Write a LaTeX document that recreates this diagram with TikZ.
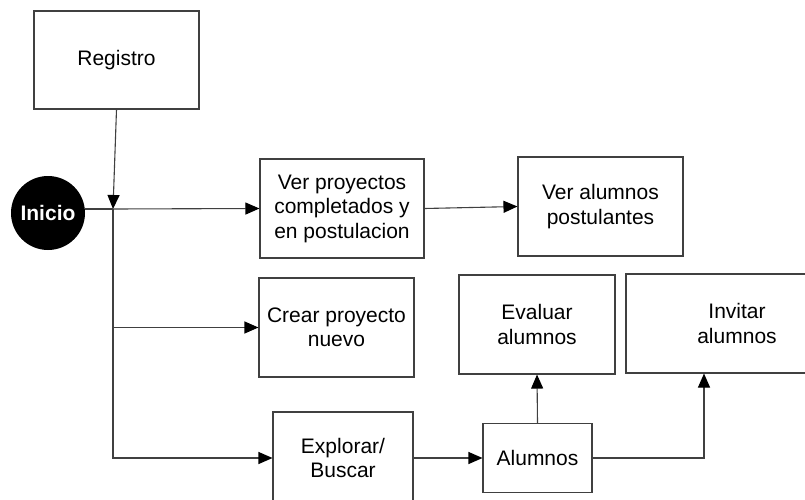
\documentclass[tikz,border=0pt]{standalone}
\usepackage{fontspec}
\setmainfont{Liberation Sans}
\usetikzlibrary{arrows.meta,calc}

\begin{document}
\begin{tikzpicture}[x=1pt, y=-1pt,
    box/.style={draw=black!75, line width=1.1pt, fill=white, align=center, inner sep=0pt,
        minimum height=99pt, font=\fontsize{21}{24.5}\selectfont},
    flecha/.style={draw=black!75, line width=1.1pt, -{Triangle[length=14pt, width=12pt, color=black]}}]
    \useasboundingbox (0,0) rectangle (805,500);
    \clip (0,0) rectangle (805,500);

    % Start circle and registration box
    \node[circle, fill=black, minimum size=74pt, inner sep=0pt, text=white,
        font=\fontsize{21}{24}\selectfont\bfseries] (inicio) at (48,213) {Inicio};
    \node[box, minimum width=165pt, minimum height=98pt] (registro) at (116.5,60) {Registro};
    \coordinate (cruce) at (113,209);

    % Main options
    \node[box, minimum width=164pt] (verproy) at (342,208.5) {Ver proyectos\\completados y\\en postulacion};
    \node[box, minimum width=165pt] (veralum) at (600.5,206.5) {Ver alumnos\\postulantes};
    \node[box, minimum width=155pt] (crear) at (336.5,327.5) {Crear proyecto\\nuevo};
    \node[box, minimum width=140pt, minimum height=92pt] (explorar) at (343,458) {Explorar/\\Buscar};

    % Students branch
    \node[box, minimum width=109pt, minimum height=69pt] (alumnos) at (537.5,458) {Alumnos};
    \node[box, minimum width=156pt] (evaluar) at (537,324.5) {Evaluar\\alumnos};
    \node[box, minimum width=222pt] (invitar) at (737,323.5) {Invitar\\alumnos};

    % Connectors
    \draw[flecha] (registro.south) -- (cruce);
    \draw[draw=black!75, line width=1.1pt] (cruce -| inicio.east) -- (cruce);
    \draw[flecha] (cruce) -- (verproy.west);
    \draw[flecha] (cruce) |- (crear.west);
    \draw[flecha] (cruce) |- (explorar.west);
    \draw[flecha] (verproy.east) -- (veralum.west);
    \draw[flecha] (explorar.east) -- (alumnos.west);
    \draw[flecha] (alumnos.north) -- (evaluar.south);
    \draw[flecha] (alumnos.east) -| ([xshift=-33pt]invitar.south);
\end{tikzpicture}
\end{document}
